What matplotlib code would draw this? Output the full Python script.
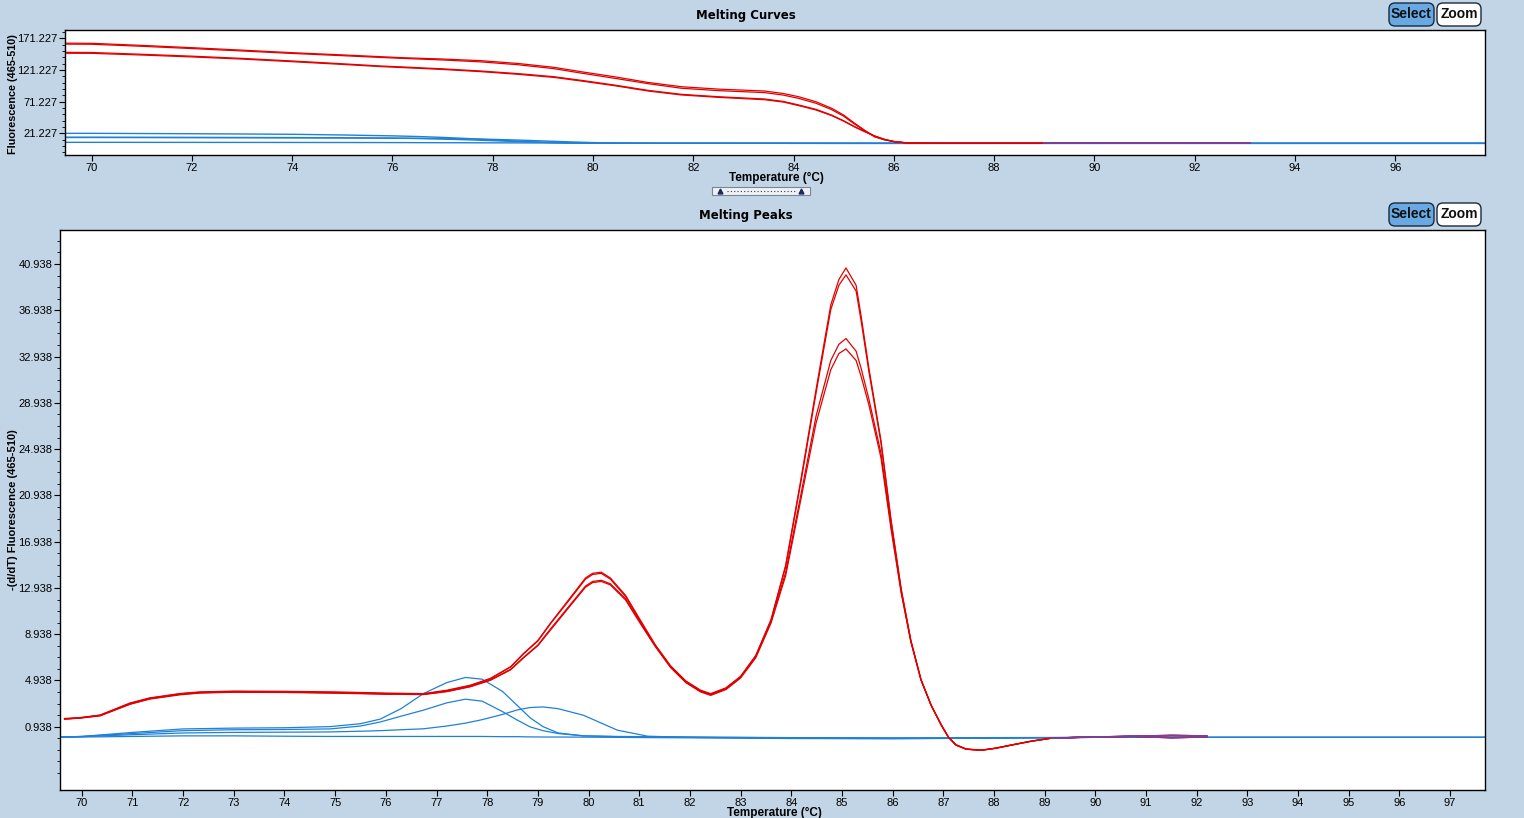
import matplotlib
matplotlib.use('Agg')
import matplotlib.pyplot as plt
import numpy as np
from matplotlib.patches import FancyBboxPatch
from matplotlib.transforms import IdentityTransform
from matplotlib.lines import Line2D
from matplotlib.ticker import FixedLocator

# ---- data: melting curves (top panel) ----
t_top_red = [69.5, 70, 71, 72, 73, 74, 75, 75.76, 76.2, 77, 77.76, 78.5, 79.22, 79.8,
             80.42, 81.1, 81.76, 82.5, 83.42, 83.8, 84.1, 84.45, 84.76, 85.0, 85.22,
             85.42, 85.62, 85.82, 86.02, 86.3, 87, 88, 89, 90, 91, 92, 93.1]
top_hi1 = [163.5, 163.3, 160.0, 156.4, 152.5, 148.5, 145.0, 142.2, 140.6, 138.5, 135.9,
           131.5, 125.4, 118.0, 110.6, 101.5, 94.8, 91.0, 88.0, 84.0, 79.0, 71.0, 60.7,
           50.0, 37.0, 26.0, 16.0, 11.0, 8.0, 5.8, 5.5, 5.5, 5.5, 5.5, 5.5, 5.5, 5.5]
top_hi2 = [162.0, 161.8, 158.6, 155.0, 151.2, 147.3, 143.8, 141.0, 139.5, 137.0, 134.0,
           129.5, 123.3, 115.8, 108.2, 99.6, 92.4, 88.6, 85.5, 81.5, 76.4, 68.6, 58.6,
           48.2, 35.6, 25.0, 15.6, 10.8, 7.9, 5.8, 5.5, 5.5, 5.5, 5.5, 5.5, 5.5, 5.5]
top_lo1 = [149.0, 148.8, 146.0, 143.0, 139.5, 135.4, 131.0, 127.5, 126.0, 123.0, 119.6,
           115.5, 110.6, 104.5, 97.5, 89.0, 82.8, 79.0, 75.4, 71.5, 66.0, 59.0, 50.0,
           41.0, 31.6, 24.0, 17.0, 11.5, 8.0, 5.8, 5.5, 5.5, 5.5, 5.5, 5.5, 5.5, 5.5]
top_lo2 = [147.6, 147.5, 144.8, 141.8, 138.4, 134.3, 130.0, 126.6, 125.0, 122.0, 118.6,
           114.4, 109.5, 103.4, 96.5, 88.0, 81.8, 78.0, 74.3, 70.5, 65.0, 58.0, 49.2,
           40.4, 31.2, 23.8, 16.9, 11.4, 8.0, 5.8, 5.5, 5.5, 5.5, 5.5, 5.5, 5.5, 5.5]

t_top_blue = [69.5, 70, 72, 74, 75, 76, 76.5, 77, 77.5, 78, 78.5, 79, 79.5, 80, 80.5,
              81, 81.5, 82, 85, 90, 95, 97.8]
top_b1 = [21.2, 21.2, 20.6, 19.7, 18.6, 17.2, 16.2, 14.8, 13.0, 10.8, 8.7, 7.1, 6.2,
          5.8, 5.6, 5.5, 5.5, 5.5, 5.4, 5.4, 5.4, 5.4]
top_b2 = [15.0, 15.0, 14.8, 14.5, 14.2, 13.6, 13.0, 12.1, 11.0, 9.6, 8.2, 7.0, 6.2,
          5.8, 5.6, 5.5, 5.5, 5.5, 5.4, 5.4, 5.4, 5.4]
top_b3 = [14.6, 14.6, 14.4, 14.1, 13.9, 13.6, 13.4, 13.0, 12.5, 11.7, 10.6, 9.2, 7.8,
          6.6, 5.9, 5.6, 5.5, 5.5, 5.4, 5.4, 5.4, 5.4]
top_b4 = [7.0, 7.0, 6.9, 6.8, 6.7, 6.6, 6.5, 6.4, 6.3, 6.2, 6.1, 6.0, 5.8, 5.7, 5.6,
          5.5, 5.5, 5.5, 5.4, 5.4, 5.4, 5.4]

# ---- data: melting peaks (bottom panel) ----
t_red = [69.66, 69.96, 70.36, 70.95, 71.34, 71.94, 72.33, 73.0, 74.0, 75.0, 76.0, 76.74,
         77.21, 77.67, 78.06, 78.46, 78.72, 79.0, 79.25, 79.64, 79.94, 80.08, 80.25,
         80.43, 80.73, 81.03, 81.32, 81.62, 81.92, 82.21, 82.41, 82.71, 83.0, 83.3,
         83.6, 83.89, 84.19, 84.49, 84.78, 84.94, 85.08, 85.28, 85.38, 85.53, 85.77,
         85.97, 86.17, 86.36, 86.56, 86.76, 86.96, 87.1, 87.25, 87.45, 87.75, 88.04,
         88.34, 88.74, 89.13, 89.72, 90.71, 91.5, 92.2]
peak_a = [1.65, 1.73, 1.93, 2.99, 3.43, 3.81, 3.95, 4.02, 4.0, 3.95, 3.85, 3.8,
          4.1, 4.53, 5.11, 6.12, 7.28, 8.4, 9.9, 12.1, 13.8, 14.2, 14.3,
          13.8, 12.3, 10.1, 8.0, 6.2, 4.9, 4.1, 3.8, 4.3, 5.3, 7.1,
          10.2, 14.9, 22.3, 30.1, 37.4, 39.6, 40.6, 39.1, 36.4, 32.0, 25.7,
          18.8, 12.8, 8.4, 5.0, 2.8, 1.07, 0.03, -0.66, -1.01, -1.1, -0.92,
          -0.66, -0.32, -0.06, 0.03, 0.12, 0.2, 0.15]
peak_b = [1.6, 1.7, 1.95, 2.95, 3.4, 3.78, 3.92, 3.98, 3.96, 3.9, 3.8, 3.76,
          4.05, 4.5, 5.08, 6.1, 7.25, 8.35, 9.85, 12.0, 13.7, 14.1, 14.2,
          13.7, 12.2, 10.0, 7.95, 6.15, 4.85, 4.05, 3.75, 4.25, 5.25, 7.05,
          10.1, 14.8, 22.1, 29.8, 37.0, 39.1, 40.0, 38.6, 36.0, 31.7, 25.5,
          18.7, 12.8, 8.4, 5.0, 2.8, 1.1, 0.05, -0.62, -0.98, -1.08, -0.9,
          -0.64, -0.3, -0.05, 0.03, 0.1, 0.18, 0.15]
peak_c = [1.62, 1.7, 1.9, 2.9, 3.36, 3.74, 3.88, 3.95, 3.93, 3.87, 3.78, 3.74,
          4.0, 4.42, 4.98, 5.9, 6.95, 8.0, 9.4, 11.5, 13.1, 13.5, 13.6,
          13.3, 12.0, 9.9, 7.9, 6.1, 4.8, 4.0, 3.7, 4.2, 5.2, 7.0,
          10.0, 14.3, 21.0, 27.8, 32.6, 34.0, 34.5, 33.4, 31.9, 29.3, 24.6,
          18.3, 12.6, 8.3, 5.0, 2.8, 1.1, 0.05, -0.64, -1.0, -1.1, -0.92,
          -0.65, -0.31, -0.05, 0.03, 0.12, 0.0, 0.05]
peak_d = [1.6, 1.68, 1.88, 2.88, 3.33, 3.7, 3.85, 3.92, 3.9, 3.84, 3.75, 3.72,
          3.98, 4.4, 4.95, 5.85, 6.9, 7.95, 9.3, 11.4, 13.0, 13.4, 13.5,
          13.2, 11.9, 9.8, 7.85, 6.05, 4.75, 3.95, 3.65, 4.15, 5.15, 6.9,
          9.9, 14.0, 20.6, 27.2, 31.8, 33.2, 33.6, 32.6, 31.2, 28.8, 24.2,
          18.0, 12.5, 8.3, 5.0, 2.8, 1.1, 0.06, -0.62, -0.99, -1.09, -0.91,
          -0.64, -0.3, -0.05, 0.02, 0.1, -0.02, 0.05]

t_blue = [69.6, 70, 71, 72, 73, 74, 74.9, 75.5, 75.89, 76.3, 76.74, 77.2, 77.57, 77.9,
          78.3, 78.6, 78.85, 79.1, 79.4, 79.9, 80.57, 81.17, 82, 84, 86, 88, 90, 92,
          94, 97.7]
blue_1 = [0.05, 0.1, 0.45, 0.75, 0.82, 0.85, 0.95, 1.2, 1.6, 2.5, 3.8, 4.75, 5.2, 5.05,
          4.0, 2.75, 1.7, 0.95, 0.4, 0.15, 0.1, 0.08, 0.05, 0.0, -0.02, 0.0, 0.02, 0.02,
          0.02, 0.02]
blue_2 = [0.05, 0.1, 0.35, 0.6, 0.68, 0.7, 0.75, 1.0, 1.35, 1.85, 2.37, 3.0, 3.32, 3.15,
          2.25, 1.5, 0.92, 0.6, 0.35, 0.15, 0.08, 0.05, 0.03, -0.02, -0.05, -0.03, 0.02,
          0.02, 0.02, 0.02]
blue_3 = [0.05, 0.08, 0.25, 0.4, 0.45, 0.47, 0.49, 0.55, 0.6, 0.68, 0.76, 1.0, 1.25, 1.55,
          2.0, 2.4, 2.6, 2.65, 2.5, 1.93, 0.64, 0.12, 0.02, -0.06, -0.08, -0.05, 0.02,
          0.02, 0.02, 0.02]
blue_4 = [0.03, 0.05, 0.1, 0.15, 0.15, 0.12, 0.1, 0.1, 0.1, 0.1, 0.1, 0.1, 0.1, 0.1,
          0.08, 0.08, 0.06, 0.05, 0.05, 0.04, 0.02, 0.0, -0.02, -0.08, -0.1, -0.05, 0.02,
          0.02, 0.02, 0.02]

W, H = 1524, 818
BG = '#c2d5e6'
RED = '#e10000'
BLUE = '#1f80d8'
PURPLE = '#7f3f96'
FONT = 'Liberation Sans'


def fx(px):
    return px / W


def fy(py):
    return 1 - py / H


fig = plt.figure(figsize=(W / 100, H / 100), dpi=100, facecolor=BG)

ax1 = fig.add_axes([fx(65), fy(155), (1485 - 65) / W, (155 - 30) / H])
ax2 = fig.add_axes([fx(60), fy(790), (1485 - 60) / W, (790 - 230) / H])

# top panel
for b in [top_b4, top_b3, top_b2, top_b1]:
    ax1.plot(t_top_blue, b, color=BLUE, lw=1.0, zorder=2)
for r in [top_lo2, top_lo1, top_hi2, top_hi1]:
    ax1.plot(t_top_red, r, color=RED, lw=0.9, zorder=3)
    tt = np.array(t_top_red)
    keep = tt >= 88.6
    ax1.plot(tt[keep], np.array(r)[keep], color=PURPLE, lw=1.2, zorder=4)

ax1.set_xlim(69.47, 97.79)
ax1.set_ylim(-13.0, 184.3)
top_yt = [21.227, 71.227, 121.227, 171.227]
ax1.set_yticks(top_yt, [f'{v:.3f}' for v in top_yt])
ax1.yaxis.set_minor_locator(FixedLocator(np.arange(-8.773, 184, 10)))
ax1.set_xticks(range(70, 97, 2))

# bottom panel
for b in [blue_4, blue_3, blue_2, blue_1]:
    ax2.plot(t_blue, b, color=BLUE, lw=0.9, zorder=2)
for r in [peak_d, peak_c, peak_b, peak_a]:
    ax2.plot(t_red, r, color=RED, lw=0.9, zorder=3)
    tt = np.array(t_red)
    keep = tt >= 89.1
    ax2.plot(tt[keep], np.array(r)[keep], color=PURPLE, lw=1.0, zorder=4)

ax2.set_xlim(69.57, 97.69)
ax2.set_ylim(-4.53, 43.88)
bot_yt = [0.938 + 4 * i for i in range(11)]
ax2.set_yticks(bot_yt, [f'{v:.3f}' for v in bot_yt])
ax2.yaxis.set_minor_locator(FixedLocator(np.arange(-3.062, 43.5, 1.0)))
ax2.set_xticks(range(70, 98))

for ax in (ax1, ax2):
    ax.set_facecolor('white')
    for s in ax.spines.values():
        s.set_color('black')
        s.set_linewidth(1.0)
    ax.tick_params(which='major', direction='out', length=4, width=0.8,
                   labelsize=8, pad=1.5, colors='black')
    ax.tick_params(which='minor', direction='out', length=2.5, width=0.6)
    for lab in ax.get_xticklabels() + ax.get_yticklabels():
        lab.set_fontfamily(FONT)

# titles and axis labels
fig.text(fx(746), fy(15), 'Melting Curves', ha='center', va='center',
         fontsize=8.5, fontweight='bold', family='DejaVu Sans')
fig.text(fx(746), fy(215), 'Melting Peaks', ha='center', va='center',
         fontsize=8.5, fontweight='bold', family='DejaVu Sans')
fig.text(fx(776), fy(178), 'Temperature (°C)', ha='center', va='center',
         fontsize=8.5, fontweight='bold', family=FONT)
fig.text(fx(774), fy(813), 'Temperature (°C)', ha='center', va='center',
         fontsize=8.5, fontweight='bold', family=FONT)
fig.text(fx(13), fy(94), 'Fluorescence (465-510)', ha='center', va='center',
         rotation=90, fontsize=7.8, fontweight='bold', family=FONT)
fig.text(fx(13), fy(510), '-(d/dT) Fluorescence (465-510)', ha='center', va='center',
         rotation=90, fontsize=8, fontweight='bold', family=FONT)

# buttons
for top in (3, 203):
    sel = FancyBboxPatch((1389, H - top - 23), 45, 23,
                         boxstyle='round,pad=0,rounding_size=6',
                         facecolor='#68a9e3', edgecolor='#1a2a3a', lw=1.0,
                         transform=IdentityTransform())
    zm = FancyBboxPatch((1437, H - top - 23), 44, 23,
                        boxstyle='round,pad=0,rounding_size=6',
                        facecolor='white', edgecolor='#1a2a3a', lw=1.0,
                        transform=IdentityTransform())
    fig.add_artist(sel)
    fig.add_artist(zm)
    fig.text(fx(1411.5), fy(top + 11.5), 'Select', ha='center', va='center',
             fontsize=10, fontweight='bold', family=FONT, color='#101010')
    fig.text(fx(1459), fy(top + 11.5), 'Zoom', ha='center', va='center',
             fontsize=10, fontweight='bold', family=FONT, color='#101010')

# splitter handle between panels
handle = FancyBboxPatch((712, H - 195), 98, 8, boxstyle='square,pad=0',
                        facecolor='#eef2f7', edgecolor='#7a8590', lw=0.8,
                        transform=IdentityTransform())
fig.add_artist(handle)
fig.add_artist(Line2D([fx(727), fx(795)], [fy(191), fy(191)], color='#303848',
                      lw=0.8, ls=(0, (1, 2)), transform=fig.transFigure))
fig.add_artist(Line2D([fx(720), fx(801)], [fy(191), fy(191)], ls='none',
                      marker='^', ms=3.5, color='#1a2a5a', transform=fig.transFigure))

fig.savefig('out.png', dpi=100, facecolor=BG)
